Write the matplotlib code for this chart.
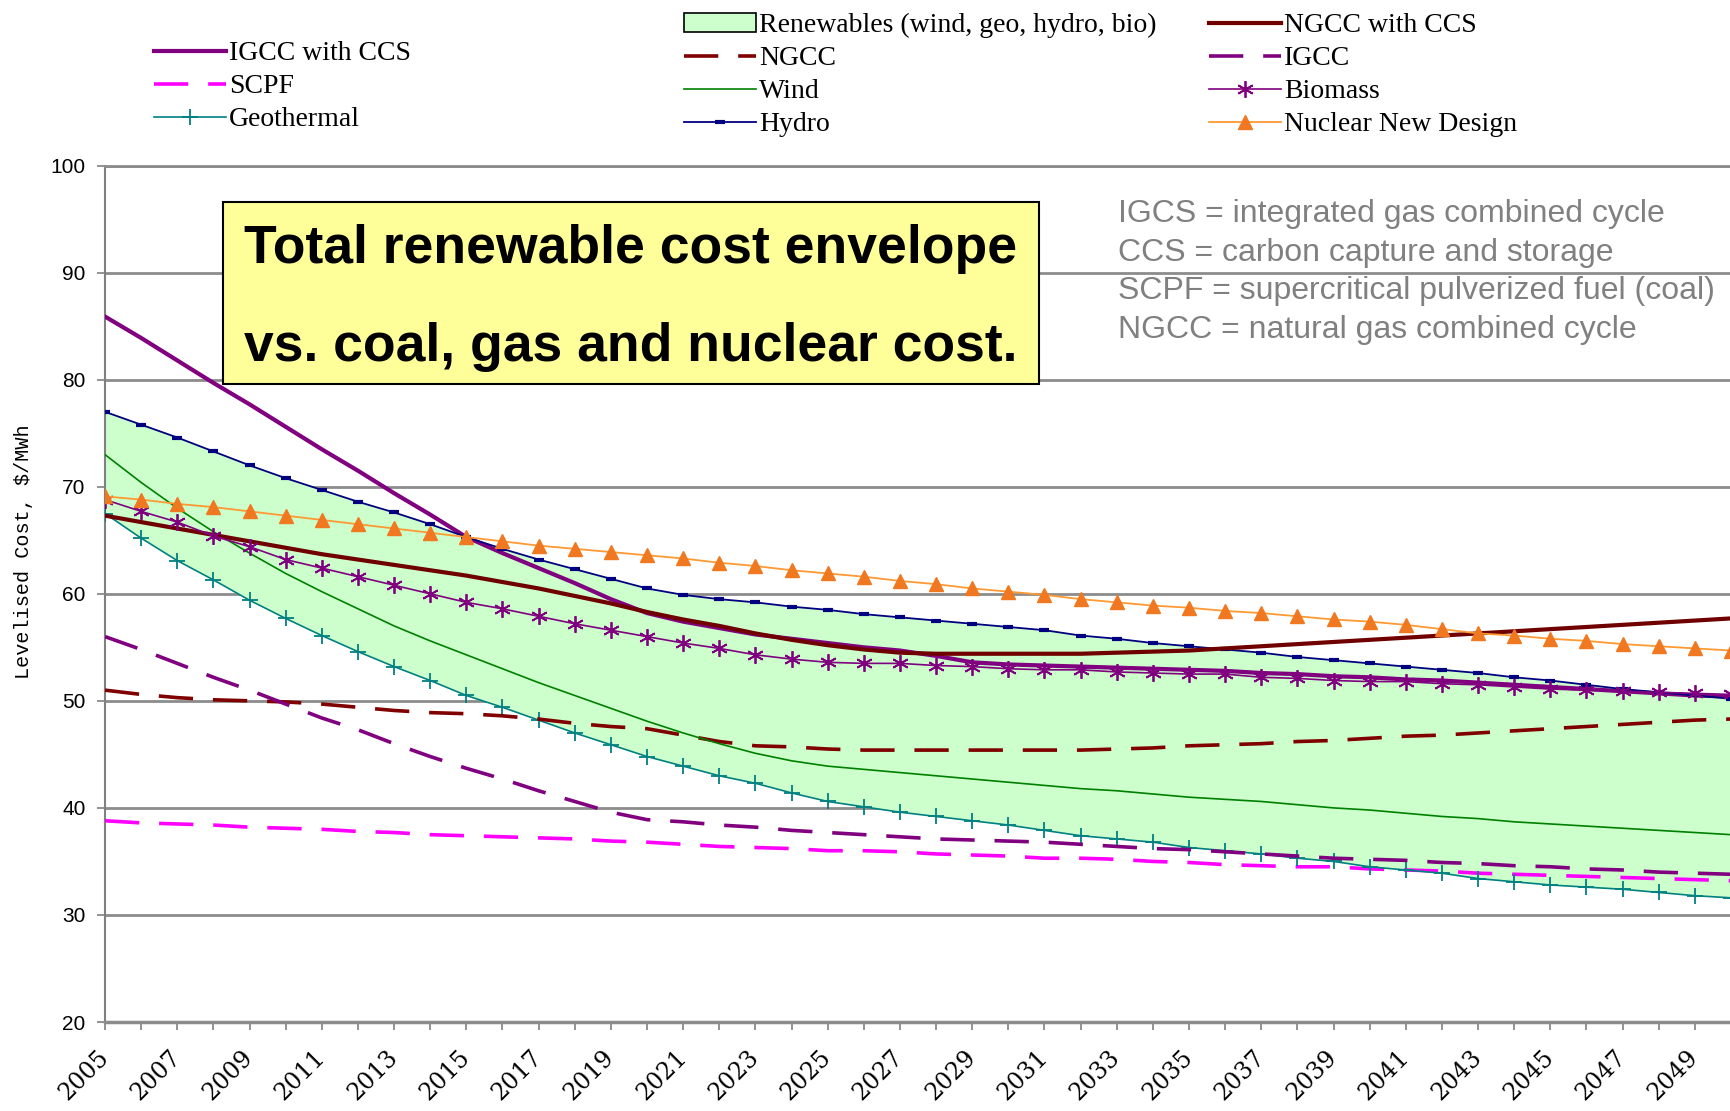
import numpy as np
import matplotlib
matplotlib.use('Agg')
import matplotlib.pyplot as plt
from matplotlib.lines import Line2D
from matplotlib.patches import Patch, Rectangle

# - levelised cost, $/MWh, one value per year 2005..2050
years = list(range(2005, 2051))

igcc_ccs = [85.9, 83.9, 81.8, 79.7, 77.7, 75.6, 73.5, 71.5, 69.4, 67.4,
            65.3, 63.8, 62.4, 61.0, 59.5, 58.2, 57.4, 56.8, 56.2, 55.8,
            55.4, 55.0, 54.7, 54.2, 53.6, 53.4, 53.3, 53.2, 53.1, 53.0,
            52.9, 52.8, 52.6, 52.5, 52.3, 52.2, 52.0, 51.9, 51.7, 51.5,
            51.3, 51.1, 50.9, 50.7, 50.5, 50.4]
scpf = [38.8, 38.6, 38.5, 38.4, 38.2, 38.1, 38.0, 37.8, 37.7, 37.5,
        37.4, 37.3, 37.2, 37.1, 36.9, 36.8, 36.6, 36.4, 36.3, 36.2,
        36.0, 36.0, 35.9, 35.7, 35.6, 35.5, 35.3, 35.3, 35.2, 35.0,
        34.9, 34.7, 34.6, 34.5, 34.5, 34.3, 34.2, 34.1, 33.9, 33.8,
        33.7, 33.6, 33.5, 33.4, 33.3, 33.2]
geothermal = [67.5, 65.2, 63.1, 61.3, 59.4, 57.7, 56.1, 54.6, 53.2, 51.9,
              50.5, 49.4, 48.2, 47.0, 45.9, 44.8, 43.9, 43.0, 42.3, 41.4,
              40.6, 40.1, 39.6, 39.2, 38.8, 38.4, 37.9, 37.4, 37.1, 36.8,
              36.3, 36.0, 35.7, 35.3, 35.0, 34.5, 34.2, 33.9, 33.4, 33.1,
              32.8, 32.6, 32.4, 32.1, 31.8, 31.6]
ngcc = [51.0, 50.6, 50.3, 50.1, 50.0, 49.9, 49.7, 49.4, 49.1, 48.9,
        48.8, 48.6, 48.3, 47.9, 47.6, 47.4, 46.8, 46.2, 45.8, 45.7,
        45.5, 45.4, 45.4, 45.4, 45.4, 45.4, 45.4, 45.4, 45.5, 45.6,
        45.8, 45.9, 46.0, 46.2, 46.3, 46.5, 46.7, 46.8, 47.0, 47.2,
        47.4, 47.6, 47.8, 48.0, 48.2, 48.3]
wind = [73.0, 70.4, 68.0, 65.8, 63.8, 61.9, 60.2, 58.6, 57.0, 55.6,
        54.3, 53.0, 51.7, 50.5, 49.3, 48.1, 47.0, 46.0, 45.1, 44.4,
        43.9, 43.6, 43.3, 43.0, 42.7, 42.4, 42.1, 41.8, 41.6, 41.3,
        41.0, 40.8, 40.6, 40.3, 40.0, 39.8, 39.5, 39.2, 39.0, 38.7,
        38.5, 38.3, 38.1, 37.9, 37.7, 37.5]
hydro = [77.0, 75.8, 74.6, 73.3, 72.0, 70.8, 69.7, 68.6, 67.6, 66.5,
         65.3, 64.2, 63.2, 62.3, 61.4, 60.5, 59.9, 59.5, 59.2, 58.8,
         58.5, 58.1, 57.8, 57.5, 57.2, 56.9, 56.6, 56.1, 55.8, 55.4,
         55.1, 54.8, 54.5, 54.1, 53.8, 53.5, 53.2, 52.9, 52.6, 52.2,
         51.9, 51.5, 51.1, 50.8, 50.5, 50.2]
ngcc_ccs = [67.3, 66.7, 66.1, 65.5, 64.9, 64.3, 63.7, 63.2, 62.7, 62.2,
            61.7, 61.1, 60.5, 59.8, 59.1, 58.3, 57.6, 57.0, 56.3, 55.7,
            55.2, 54.8, 54.5, 54.4, 54.4, 54.4, 54.4, 54.4, 54.5, 54.6,
            54.7, 54.9, 55.1, 55.3, 55.5, 55.7, 55.9, 56.1, 56.3, 56.5,
            56.7, 56.9, 57.1, 57.3, 57.5, 57.7]
igcc = [56.0, 54.8, 53.5, 52.2, 51.0, 49.7, 48.4, 47.3, 46.0, 44.8,
        43.7, 42.7, 41.6, 40.6, 39.6, 38.9, 38.7, 38.4, 38.2, 37.9,
        37.7, 37.5, 37.3, 37.1, 37.0, 36.9, 36.8, 36.6, 36.4, 36.2,
        36.1, 35.9, 35.7, 35.5, 35.3, 35.2, 35.1, 34.9, 34.8, 34.6,
        34.5, 34.3, 34.2, 34.0, 33.9, 33.8]
biomass = [68.8, 67.7, 66.7, 65.4, 64.4, 63.2, 62.4, 61.6, 60.8, 60.0,
           59.2, 58.6, 57.9, 57.2, 56.6, 56.0, 55.4, 54.9, 54.3, 53.9,
           53.6, 53.5, 53.5, 53.3, 53.2, 53.0, 52.9, 52.9, 52.7, 52.6,
           52.5, 52.5, 52.2, 52.1, 51.9, 51.8, 51.8, 51.6, 51.5, 51.3,
           51.1, 51.0, 50.9, 50.8, 50.7, 50.6]
nuclear = [69.1, 68.8, 68.4, 68.1, 67.7, 67.3, 66.9, 66.5, 66.1, 65.7,
           65.3, 64.9, 64.5, 64.2, 63.9, 63.6, 63.3, 62.9, 62.6, 62.2,
           61.9, 61.6, 61.2, 60.9, 60.5, 60.2, 59.9, 59.5, 59.2, 58.9,
           58.7, 58.4, 58.2, 57.9, 57.6, 57.4, 57.1, 56.7, 56.3, 56.1,
           55.8, 55.6, 55.3, 55.1, 54.9, 54.7]

notes = ['IGCS = integrated gas combined cycle',
         'CCS = carbon capture and storage',
         'SCPF = supercritical pulverized fuel (coal)',
         'NGCC = natural gas combined cycle']

W, H = 1731, 1111
PX_YEAR = 36.43

fig = plt.figure(figsize=(W / 100, H / 100), dpi=100)
ax = fig.add_axes([105 / W, 1 - 1022 / H, 1 - 105 / W, (1022 - 165.6) / H])

# - renewable envelope = spread of wind, geo, hydro, bio
ren = np.array([wind, geothermal, hydro, biomass])
ax.fill_between(years, ren.min(axis=0), ren.max(axis=0),
                color='#ccffcc', lw=0, zorder=1)

dash = (9.5, 5.5)
styles = {
    'IGCC with CCS': dict(color='#800080', lw=3.0),
    'SCPF': dict(color='#ff00ff', lw=2.6, dashes=dash),
    'Geothermal': dict(color='#008080', lw=1.2, marker='+', ms=11, mew=1.3),
    'NGCC': dict(color='#800000', lw=2.6, dashes=dash),
    'Wind': dict(color='#008000', lw=1.2),
    'Hydro': dict(color='#000080', lw=1.3, marker='_', ms=7, mew=3),
    'NGCC with CCS': dict(color='#700000', lw=3.0),
    'IGCC': dict(color='#800080', lw=2.6, dashes=dash),
    'Biomass': dict(color='#800080', lw=1.2, marker=(6, 2, 0), ms=12, mew=1.3),
    'Nuclear New Design': dict(color='#ff9933', lw=1.3, marker='^', ms=10,
                               mfc='#f07820', mec='#f07820'),
}
series = {
    'IGCC with CCS': igcc_ccs, 'SCPF': scpf, 'Geothermal': geothermal,
    'NGCC': ngcc, 'Wind': wind, 'Hydro': hydro, 'NGCC with CCS': ngcc_ccs,
    'IGCC': igcc, 'Biomass': biomass, 'Nuclear New Design': nuclear,
}
for name, vals in series.items():
    ax.plot(years, vals, zorder=3, **styles[name])

ax.set_xlim(2005, 2005 + (W - 105) / PX_YEAR)
ax.set_ylim(20, 100)
ax.set_yticks(range(20, 101, 10))
ax.set_xticks(years)
ax.set_xticklabels([str(y) if (y - 2005) % 2 == 0 else '' for y in years],
                   rotation=45, ha='right', va='center', rotation_mode='anchor',
                   family='DejaVu Serif', fontsize=17)
ax.set_yticklabels([str(v) for v in range(20, 101, 10)],
                   family='Liberation Sans', fontsize=15)
ax.tick_params(axis='x', length=6, color='#808080', width=1.2, pad=17)
ax.tick_params(axis='y', length=6, color='#808080', width=1.2, pad=8)
ax.yaxis.grid(True, color='#8c8c8c', lw=2)
ax.set_axisbelow(True)
ax.spines['right'].set_visible(False)
ax.spines['top'].set_color('#8c8c8c')
ax.spines['top'].set_linewidth(2)
ax.spines['left'].set_color('#808080')
ax.spines['left'].set_linewidth(1.5)
ax.spines['bottom'].set_color('#8c8c8c')
ax.spines['bottom'].set_linewidth(2.5)

fig.text(24 / W, 1 - 552 / H, 'Levelised Cost, $/MWh', rotation=90,
         ha='center', va='center', family='Liberation Mono', fontsize=14.5)

# - yellow call-out box
fig.patches.append(Rectangle((223 / W, 1 - 384 / H), 816 / W, 182 / H,
                             transform=fig.transFigure, facecolor='#ffff99',
                             edgecolor='black', lw=1.5, zorder=5))
fig.text(244 / W, 1 - 249.5 / H, 'Total renewable cost envelope', va='center',
         fontsize=38.5, fontweight='bold', family='Liberation Sans', zorder=6)
fig.text(244 / W, 1 - 346.5 / H, 'vs. coal, gas and nuclear cost.', va='center',
         fontsize=38.5, fontweight='bold', family='Liberation Sans', zorder=6)

for i, t in enumerate(notes):
    fig.text(1118 / W, 1 - (214 + 38.7 * i) / H, t, va='center',
             color='#808080', fontsize=23, family='Liberation Sans')


def handle(name):
    return Line2D([], [], **styles[name])


leg_kw = dict(loc='upper left', frameon=False, borderpad=0, borderaxespad=0,
              handlelength=2.6, handletextpad=0.1, labelspacing=0.27,
              numpoints=1, prop={'family': 'Liberation Serif', 'size': 20})

col1 = ['IGCC with CCS', 'SCPF', 'Geothermal']
col2 = ['NGCC', 'Wind', 'Hydro']
col3 = ['NGCC with CCS', 'IGCC', 'Biomass', 'Nuclear New Design']

fig.legend([handle(n) for n in col1], col1,
           bbox_to_anchor=(154 / W, 1 - 41 / H), **leg_kw)
ren_patch = Patch(facecolor='#ccffcc', edgecolor='black', lw=1.2)
fig.legend([ren_patch] + [handle(n) for n in col2],
           ['Renewables (wind, geo, hydro, bio)'] + col2,
           bbox_to_anchor=(684 / W, 1 - 13 / H), **leg_kw)
fig.legend([handle(n) for n in col3], col3,
           bbox_to_anchor=(1209 / W, 1 - 13 / H), **leg_kw)

fig.savefig('out.png', dpi=100)
